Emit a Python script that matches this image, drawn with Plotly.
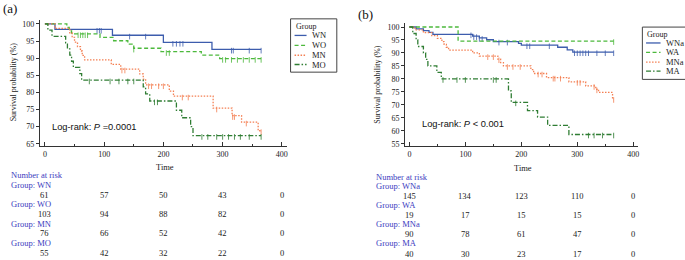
import plotly.graph_objects as go

W, H = 685, 260

# ---------------- Panel (a) data ----------------
a_names = ["WN", "WO", "MN", "MO"]
wn_t = [0, 17, 114, 200, 282]
wn_s = [100, 98.4, 96.7, 94.6, 92.6]
wn_c = [88, 92, 95, 143, 170, 216, 222, 228, 233, 315, 318, 345, 365]
wo_t = [0, 37, 41, 45, 93, 116, 140, 150, 196, 264, 295]
wo_s = [100, 99.0, 98.0, 97.1, 96.1, 95.1, 94.1, 92.9, 91.9, 90.9, 89.9]
wo_c = [56, 60, 64, 68, 72, 150, 205, 210, 300, 305, 315, 325, 335, 345, 355, 365]
mn_t = [0, 17, 42, 46, 50, 55, 60, 63, 67, 112, 128, 160, 166, 170, 210, 217, 284, 316, 332, 360]
mn_s = [100, 98.7, 97.4, 96.1, 94.7, 93.4, 92.1, 90.8, 89.5, 88.2, 86.8, 85.4, 83.9, 82.2, 80.4, 78.9, 75.4, 73.2, 71.3, 68.8]
mn_c = [130, 135, 175, 180, 192, 200, 232, 242, 290, 317, 320, 340, 365]
mo_t = [0, 5, 12, 35, 38, 42, 45, 48, 59, 62, 166, 170, 177, 222, 231, 246, 250]
mo_s = [100, 98.2, 96.4, 94.5, 92.7, 90.9, 89.1, 87.3, 85.5, 83.6, 81.6, 79.6, 77.5, 74.8, 72.6, 70.0, 67.4]
mo_c = [75, 110, 125, 140, 150, 185, 190, 265, 275, 290, 300, 310, 320, 330, 345, 365]
a_risk_times = [0, 100, 200, 300, 400]
a_risk = [[61, 57, 50, 43, 0], [103, 94, 88, 82, 0], [76, 66, 52, 42, 0], [55, 42, 32, 22, 0]]

# ---------------- Panel (b) data ----------------
b_names = ["WNa", "WA", "MNa", "MA"]
wna_t = [0, 12, 25, 35, 42, 113, 125, 138, 150, 195, 200, 265, 282, 292]
wna_s = [100, 99.3, 98.6, 97.9, 97.2, 96.5, 95.8, 95.1, 94.4, 93.7, 93.0, 92.2, 91.2, 90.3]
wna_c = [110, 115, 120, 125, 130, 160, 175, 210, 215, 250, 295, 300, 305, 310, 315, 320, 335, 350, 365]
wa_t = [0, 87]
wa_s = [100, 94.6]
wa_c = [365]
mna_t = [0, 10, 25, 40, 50, 58, 62, 66, 70, 113, 125, 158, 163, 168, 217, 222, 245, 285, 315, 333, 338, 363]
mna_s = [100, 98.9, 97.8, 96.7, 95.6, 94.4, 93.3, 92.2, 91.1, 90.0, 88.8, 87.6, 86.3, 85.0, 83.6, 82.1, 80.5, 78.9, 77.3, 76.0, 74.8, 72.3]
mna_c = [140, 150, 160, 175, 185, 198, 230, 237, 257, 260, 270, 300, 305, 330, 335, 365]
ma_t = [0, 6, 12, 15, 25, 29, 33, 49, 57, 177, 182, 211, 229, 247, 285]
ma_s = [100, 97.5, 95.0, 92.5, 90.0, 87.5, 85.0, 82.5, 80.0, 75.4, 71.0, 67.8, 65.3, 62.1, 58.6]
ma_c = [60, 85, 100, 150, 155, 190, 320, 330, 345, 365]
b_risk_times = [0, 100, 200, 300, 400]
b_risk = [[145, 134, 123, 110, 0], [19, 17, 15, 15, 0], [90, 78, 61, 47, 0], [40, 30, 23, 17, 0]]

END_T = 365

colors = ["#3d5dad", "#4cb93c", "#f47f52", "#2f7d33"]
dashes = ["solid", "4px,2.5px", "1.5px,1.5px", "5px,2px,1.5px,2px"]

SERIF = "Liberation Serif"
SANS = "Liberation Sans"
LABEL_BLUE = "#3b3bc0"


def px(x):
    return x / W


def py(y):
    return 1 - y / H


def surv_at(t, times, vals):
    v = vals[0]
    for ti, vi in zip(times, vals):
        if ti <= t:
            v = vi
    return v


fig = go.Figure()

panels = [
    ("x", "y", [(wn_t, wn_s, wn_c), (wo_t, wo_s, wo_c), (mn_t, mn_s, mn_c), (mo_t, mo_s, mo_c)]),
    ("x2", "y2", [(wna_t, wna_s, wna_c), (wa_t, wa_s, wa_c), (mna_t, mna_s, mna_c), (ma_t, ma_s, ma_c)]),
]

for xa, ya, groups in panels:
    for i, (t, s, c) in enumerate(groups):
        xs = list(t) + [END_T]
        ys = list(s) + [s[-1]]
        fig.add_trace(go.Scatter(
            x=xs, y=ys, mode="lines", xaxis=xa, yaxis=ya, showlegend=False,
            line=dict(shape="hv", color=colors[i], width=1.3, dash=dashes[i]),
            hoverinfo="skip"))
        cy = [surv_at(ct, t, s) - 0.4 for ct in c]
        fig.add_trace(go.Scatter(
            x=c, y=cy, mode="markers", xaxis=xa, yaxis=ya, showlegend=False,
            marker=dict(symbol="line-ns", size=4, line=dict(width=1, color=colors[i])),
            opacity=0.8, hoverinfo="skip"))

axis_common = dict(showline=True, linecolor="#333", linewidth=1, showgrid=False, zeroline=False,
                   tickfont=dict(family=SERIF, size=8, color="#222"))

fig.update_layout(
    width=W, height=H, autosize=False,
    margin=dict(l=0, r=0, t=0, b=0),
    paper_bgcolor="white", plot_bgcolor="white",
    xaxis=dict(domain=[px(40), px(287)], range=[-8.4, 408], anchor="y",
               tickvals=[0, 100, 200, 300, 400], ticks="inside", ticklen=4, tickcolor="#333",
               minor=dict(tickvals=[50, 150, 250, 350], ticks="inside", ticklen=2, tickcolor="#333"),
               **axis_common),
    yaxis=dict(domain=[py(147.3), py(20)], range=[64.3, 101.2], anchor="x",
               tickvals=[65, 70, 75, 80, 85, 90, 95, 100], ticks="outside", ticklen=3, tickcolor="#333",
               **axis_common),
    xaxis2=dict(domain=[px(405.7), px(639)], range=[-7.7, 408.6], anchor="y2",
                tickvals=[0, 100, 200, 300, 400], ticks="inside", ticklen=4, tickcolor="#333",
                minor=dict(tickvals=[50, 150, 250, 350], ticks="inside", ticklen=2, tickcolor="#333"),
                **axis_common),
    yaxis2=dict(domain=[py(147.3), py(23.3)], range=[54.1, 101.5], anchor="x2",
                tickvals=[55, 60, 65, 70, 75, 80, 85, 90, 95, 100], ticks="outside", ticklen=3, tickcolor="#333",
                **axis_common),
)

ann = []
shapes = []


def text(x, y, s, size=8.5, color="#222", family=SERIF, xanchor="left", angle=0, xref="paper"):
    ann.append(dict(x=x if xref != "paper" else px(x), y=py(y), xref=xref, yref="paper",
                    text=s, showarrow=False, xanchor=xanchor, yanchor="middle",
                    textangle=angle, font=dict(family=family, size=size, color=color)))


# panel labels
text(1, 9, "(a)", size=13, color="#111")
text(357, 15, "(b)", size=13, color="#111")

# axis titles
text(13, 82, "Survival probability (%)", size=8, xanchor="center", angle=-90)
text(378, 85, "Survival probability (%)", size=8, xanchor="center", angle=-90)
text(165, 168.5, "Time", size=8.5, xanchor="center")
text(524, 169.5, "Time", size=8.5, xanchor="center")

# log-rank
text(50, 127.5, "Log-rank: <i>P</i> =0.0001", size=9.3, family=SANS, color="#111")
text(421, 125, "Log-rank: <i>P</i> &lt; 0.001", size=9.3, family=SANS, color="#111")

# risk tables
a_rows = [(186.7, 196.7), (206, 216), (225.3, 235.3), (245, 255)]
text(9, 176.7, "Number at risk", color=LABEL_BLUE)
for gi, name in enumerate(a_names):
    ly, ny = a_rows[gi]
    text(9, ly, "Group: " + name, color=LABEL_BLUE)
    for t, n in zip(a_risk_times, a_risk[gi]):
        text(t, ny, str(n), xanchor="center", xref="x")

b_rows = [(187.7, 197.3), (206.7, 216.7), (226, 236), (245.3, 255.7)]
text(375, 178.3, "Number at risk", color=LABEL_BLUE)
for gi, name in enumerate(b_names):
    ly, ny = b_rows[gi]
    text(375, ly, "Group: " + name, color=LABEL_BLUE)
    for t, n in zip(b_risk_times, b_risk[gi]):
        text(t, ny, str(n), xanchor="center", xref="x2")


# legends (drawn manually)
def legend(x0, y0, x1, y1, title_y, item_ys, lx0, lx1, tx, names):
    shapes.append(dict(type="rect", xref="paper", yref="paper", x0=px(x0), x1=px(x1),
                       y0=py(y1), y1=py(y0), line=dict(color="#444", width=1), fillcolor="white"))
    text(lx0 - 1, title_y, "Group", size=8)
    for i, (yy, nm) in enumerate(zip(item_ys, names)):
        shapes.append(dict(type="line", xref="paper", yref="paper", x0=px(lx0), x1=px(lx1),
                           y0=py(yy), y1=py(yy), line=dict(color=colors[i], width=1.3, dash=dashes[i])))
        text(tx, yy, nm, size=8.5)


legend(291, 19, 337.3, 72.7, 26.7, [35.7, 45.7, 55.7, 65], 295, 307, 310, a_names)
legend(643.3, 27.3, 690, 80, 34.3, [43.3, 52.7, 62.7, 71.7], 647, 661.5, 665, b_names)

fig.update_layout(annotations=ann, shapes=shapes)

fig.write_html("out.html", config={"displayModeBar": False},
               post_script="document.body.style.margin='0';document.body.style.overflow='hidden';")
